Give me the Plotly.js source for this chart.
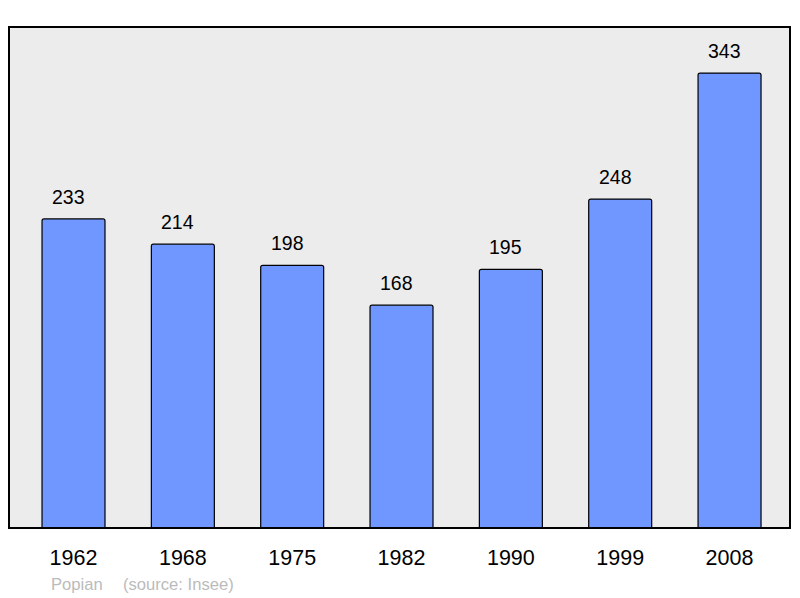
<!DOCTYPE html>
<html>
<head>
<meta charset="utf-8">
<script src="https://cdn.plot.ly/plotly-3.0.1.min.js"></script>
<style>html,body{margin:0;padding:0;background:#fff;}#chart{width:800px;height:598px;}</style>
</head>
<body>
<div id="chart"></div>
<script>
const years = ["1962", "1968", "1975", "1982", "1990", "1999", "2008"];
const population = [233, 214, 198, 168, 195, 248, 343];
const commune = "Popian";
const source = "(source: Insee)";

const FONT = "Liberation Sans, Arial, sans-serif";

const trace = {
  type: "bar",
  x: years,
  y: population,
  width: 0.576,
  marker: {color: "#7096ff", line: {color: "#000", width: 1.2}, cornerradius: 2},
  hoverinfo: "skip"
};

const annotations = years.map((yr, i) => ({
  x: i, y: population[i], xref: "x", yref: "y",
  text: String(population[i]), showarrow: false,
  xanchor: "center", yanchor: "middle", yshift: 22, xshift: -5,
  font: {family: FONT, size: 19.5, color: "#000"}
}));
const footY = -(584 - 528) / 501;
annotations.push({
  x: (49 - 9) / 781, y: footY, xref: "paper", yref: "paper", text: commune,
  showarrow: false, xanchor: "left", yanchor: "middle",
  font: {family: FONT, size: 16.6, color: "#bbbbbb"}
});
annotations.push({
  x: (121 - 9) / 781, y: footY, xref: "paper", yref: "paper", text: source,
  showarrow: false, xanchor: "left", yanchor: "middle",
  font: {family: FONT, size: 16.6, color: "#bbbbbb"}
});

const layout = {
  width: 800, height: 598,
  margin: {l: 9, r: 10, t: 27, b: 70},
  paper_bgcolor: "#fff",
  plot_bgcolor: "#ececec",
  showlegend: false,
  xaxis: {
    type: "category", range: [-0.59, 6.553],
    showgrid: false, zeroline: false, showline: false, ticks: "",
    ticklabelstandoff: 14,
    tickfont: {family: FONT, size: 21.5, color: "#000"}
  },
  yaxis: {
    range: [0, 377.7], showgrid: false, zeroline: false, showline: false,
    showticklabels: false, ticks: ""
  },
  shapes: [{
    type: "rect", xref: "paper", yref: "paper", x0: 0, x1: 1, y0: 0, y1: 1,
    line: {color: "#000", width: 2}
  }],
  annotations: annotations
};

Plotly.newPlot("chart", [trace], layout, {staticPlot: true, displayModeBar: false});
</script>
</body>
</html>
